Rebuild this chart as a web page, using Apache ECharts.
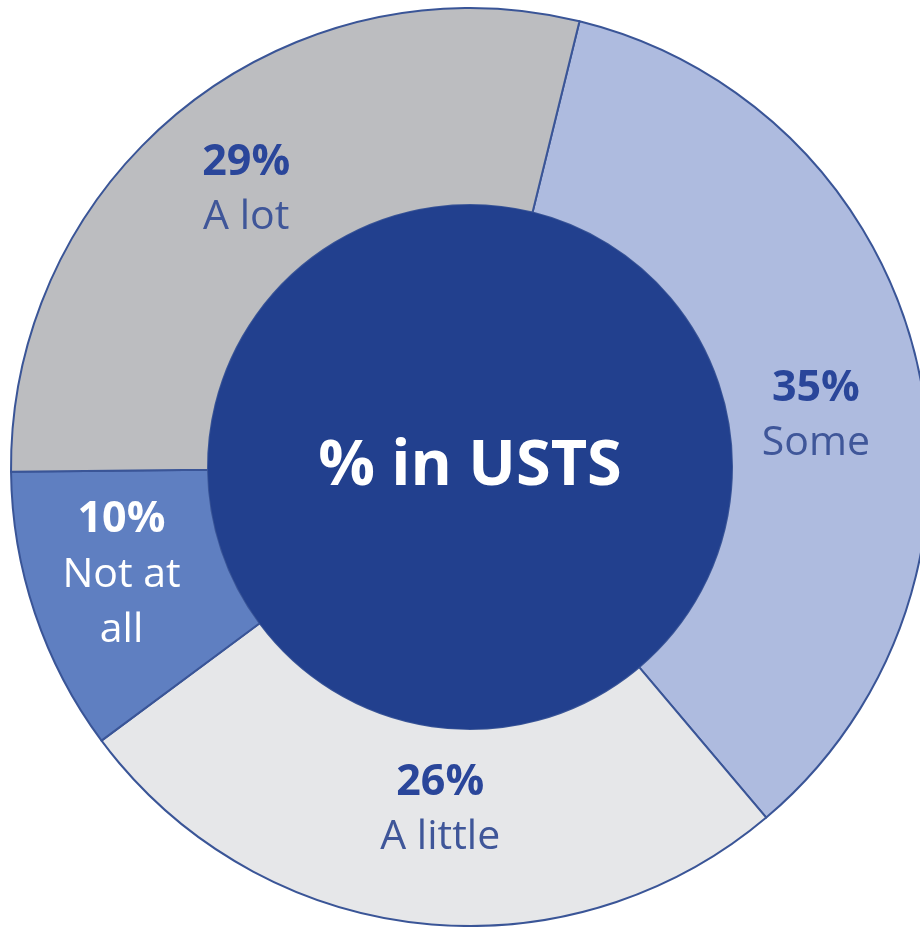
<!DOCTYPE html>
<html>
<head>
<meta charset="utf-8">
<script src="https://cdn.jsdelivr.net/npm/echarts@6/dist/echarts.min.js"></script>
<style>
  html, body { margin: 0; padding: 0; background: #fff; }
  #chart { width: 920px; height: 927px; }
</style>
</head>
<body>
<div id="chart"></div>
<script>
// answers, clockwise from the top
const categories = ['Some', 'A little', 'Not at\nall', 'A lot'];
const values = [35, 26, 10, 29];
const sliceColors = ['#aebbdf', '#e6e7e9', '#5f7fc1', '#bcbdc0'];
const centerLabel = ['% in USTS'];

const FONT = '"Open Sans", "Noto Sans", sans-serif';
const labelOffsets = [[-8, 32], [12, -18], [-4, -8], [2, 8]];

function renderDonut() {
    const chart = echarts.init(document.getElementById('chart'));

    const data = categories.map((name, i) => ({
        name: name,
        value: values[i],
        itemStyle: { color: sliceColors[i] },
        label: {
            offset: labelOffsets[i],
            rich: i === 2 ? {
                p: { color: '#ffffff' },
                n: { color: '#ffffff' }
            } : {}
        }
    }));

    const option = {
        animation: false,
        series: [
            {
                type: 'pie',
                center: [470, 467],
                radius: [262, 459],
                startAngle: 76.2,
                clockwise: true,
                silent: true,
                itemStyle: {
                    borderColor: '#3a5597',
                    borderWidth: 2
                },
                label: {
                    show: true,
                    position: 'inside',
                    formatter: '{p|{c}%}\n{n|{b}}',
                    rich: {
                        p: {
                            fontFamily: FONT,
                            fontSize: 43,
                            fontWeight: 'bold',
                            color: '#2a469a',
                            lineHeight: 55,
                            align: 'center'
                        },
                        n: {
                            fontFamily: FONT,
                            fontSize: 41,
                            fontWeight: 'normal',
                            color: '#3f5699',
                            lineHeight: 55,
                            align: 'center'
                        }
                    }
                },
                labelLine: { show: false },
                data: data
            },
            {
                type: 'pie',
                center: [470, 467],
                radius: [0, 262],
                silent: true,
                itemStyle: { color: '#22408e' },
                label: {
                    show: true,
                    position: 'center',
                    formatter: '{b}',
                    fontFamily: FONT,
                    fontSize: 63,
                    fontWeight: 'bold',
                    color: '#ffffff'
                },
                labelLine: { show: false },
                data: centerLabel.map(n => ({ name: n, value: 1 }))
            }
        ]
    };

    chart.setOption(option);
    window.addEventListener('resize', () => chart.resize());
}

renderDonut();
</script>
</body>
</html>
